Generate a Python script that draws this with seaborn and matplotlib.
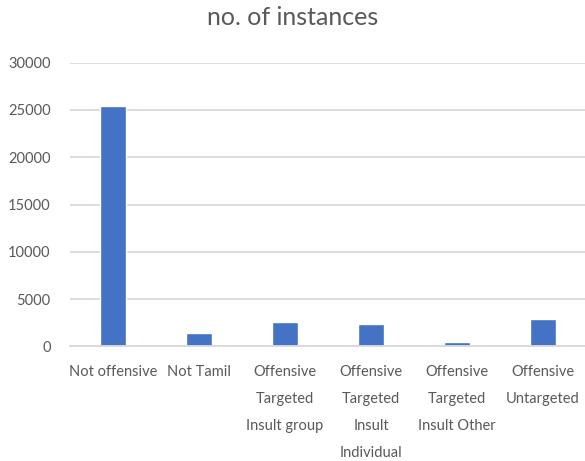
import numpy as np
import pandas as pd
import seaborn as sns
import matplotlib
matplotlib.use("Agg")
import matplotlib.pyplot as plt

# data
categories = ["Not offensive", "Not Tamil", "Offensive\nTargeted\nInsult group",
              "Offensive\nTargeted\nInsult\nIndividual", "Offensive\nTargeted\nInsult Other",
              "Offensive\nUntargeted"]
counts = [25400, 1450, 2550, 2350, 450, 2900]
y_ticks = [0, 5000, 10000, 15000, 20000, 25000, 30000]

sns.set_theme(style="white")
plt.rcParams['font.family'] = ['Lato', 'DejaVu Sans']

df = pd.DataFrame({"label": categories, "count": counts})

fig = plt.figure(figsize=(5.85, 4.61), dpi=100)
ax = fig.add_axes([0.1197, 0.2484, 0.882, 0.6156])

sns.barplot(data=df, x="label", y="count", color="#4472C4", width=0.31,
            saturation=1, ax=ax)

ax.set_ylim(0, 30000)
ax.set_xlim(-0.5, 5.5)
ax.set_yticks(y_ticks)
ax.set_yticklabels([str(t) for t in y_ticks])
ax.yaxis.grid(True, color="#D9D9D9", linewidth=1.3)
ax.set_axisbelow(True)
for s in ["top", "right", "left"]:
    ax.spines[s].set_visible(False)
ax.spines["bottom"].set_color("#D9D9D9")
ax.spines["bottom"].set_linewidth(1.3)
ax.tick_params(axis="both", length=0, labelsize=10.5, labelcolor="#595959")
ax.tick_params(axis="y", pad=14)
ax.tick_params(axis="x", pad=13)
for lbl in ax.get_xticklabels():
    lbl.set_linespacing(2.2)
    lbl.set_verticalalignment("top")
ax.set_xlabel("")
ax.set_ylabel("")
fig.text(0.5, 0.962, "no. of instances", ha="center", va="center",
         fontsize=18, color="#595959")

fig.savefig("out.png", dpi=100)
